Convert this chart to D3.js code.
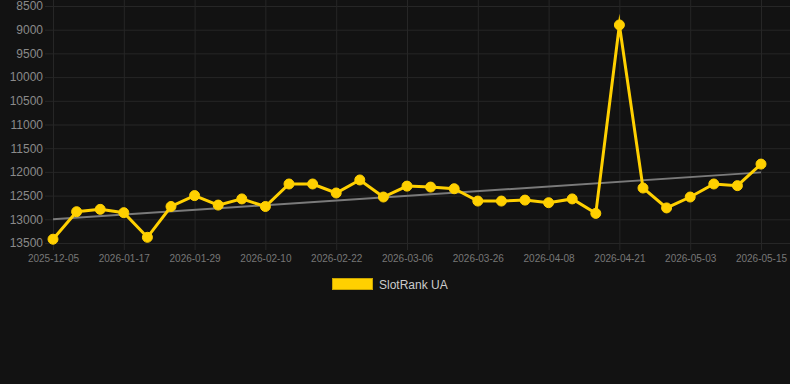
<!DOCTYPE html>
<html>
<head>
<meta charset="utf-8">
<script src="https://cdn.jsdelivr.net/npm/d3@7"></script>
<style>
  html, body { margin: 0; padding: 0; background: #121212; }
  svg { display: block; font-family: Arial, "Liberation Sans", Helvetica, sans-serif; }
</style>
</head>
<body>
<svg id="chart" width="790" height="384"></svg>
<script>
const dates = [
  "2025-12-05","2025-12-19","2026-01-02","2026-01-17","2026-01-21","2026-01-25",
  "2026-01-29","2026-02-02","2026-02-06","2026-02-10","2026-02-14","2026-02-18",
  "2026-02-22","2026-02-26","2026-03-02","2026-03-06","2026-03-12","2026-03-19",
  "2026-03-26","2026-03-30","2026-04-03","2026-04-08","2026-04-12","2026-04-16",
  "2026-04-21","2026-04-25","2026-04-29","2026-05-03","2026-05-07","2026-05-11",
  "2026-05-15"
];
const rankValues = [
  13420, 12840, 12790, 12860, 13380, 12730,
  12500, 12700, 12570, 12730, 12255, 12255,
  12445, 12170, 12530, 12300, 12320, 12355,
  12615, 12615, 12595, 12650, 12570, 12875,
  8900, 12340, 12760, 12530, 12255, 12290,
  11835
];
const trendValues = [13000, 12010];
const yTicks = [8500, 9000, 9500, 10000, 10500, 11000, 11500, 12000, 12500, 13000, 13500];
const xTickLabels = dates.filter((d, i) => i % 3 === 0);
const seriesName = "SlotRank UA";

(function () {
const svg = d3.select("#chart");
const W = 790, H = 384;
const pLeft = 53, pRight = 761, pTop = 6, pBottom = 243;
const yellow = "#FFD000";
const gridColor = "#262626";

const x = d3.scalePoint().domain(dates).range([pLeft, pRight]);
const y = d3.scaleLinear().domain([8500, 13500]).range([pTop, pBottom]);

svg.append("rect").attr("width", W).attr("height", H).attr("fill", "#121212");

// horizontal grid
const yAxis = d3.axisLeft(y).tickValues(yTicks).tickSize(-(W - 45)).tickPadding(3).tickFormat(d3.format("d"));
const gy = svg.append("g").attr("transform", "translate(45,0)").call(yAxis);
gy.select(".domain").remove();
gy.selectAll(".tick line").attr("stroke", gridColor).attr("stroke-width", 1);
gy.selectAll(".tick text").attr("fill", "#8a8a8a").attr("font-size", 12).attr("x", -2);

// vertical grid + x labels
const xAxis = d3.axisBottom(x).tickValues(xTickLabels).tickSize(pBottom + 7).tickPadding(5);
const gx = svg.append("g").call(xAxis);
gx.select(".domain").remove();
gx.selectAll(".tick line").attr("stroke", gridColor).attr("stroke-width", 1);
gx.selectAll(".tick text").attr("fill", "#777").attr("font-size", 10).attr("y", pBottom + 12);

// trend line
const trendX = [dates[0], dates[dates.length - 1]];
svg.append("line")
  .attr("x1", x(trendX[0])).attr("y1", y(trendValues[0]))
  .attr("x2", x(trendX[1])).attr("y2", y(trendValues[1]))
  .attr("stroke", "#7a7a7a").attr("stroke-width", 2);

// data line
const line = d3.line().x((d, i) => x(dates[i])).y(d => y(d));
svg.append("path").datum(rankValues)
  .attr("d", line).attr("fill", "none")
  .attr("stroke", yellow).attr("stroke-width", 3)
  .attr("stroke-linejoin", "miter").attr("stroke-miterlimit", 10);

svg.append("g").selectAll("circle").data(rankValues).join("circle")
  .attr("cx", (d, i) => x(dates[i])).attr("cy", d => y(d))
  .attr("r", 5).attr("fill", yellow).attr("stroke", yellow).attr("stroke-width", 1);

// legend
const lg = svg.append("g");
lg.append("rect").attr("x", 332.5).attr("y", 278.5).attr("width", 40).attr("height", 11)
  .attr("fill", yellow).attr("stroke", "#c9a400").attr("stroke-width", 1);
lg.append("text").attr("x", 379).attr("y", 288.5).attr("fill", "#cccccc")
  .attr("font-size", 12).text(seriesName);
})();
</script>
</body>
</html>
